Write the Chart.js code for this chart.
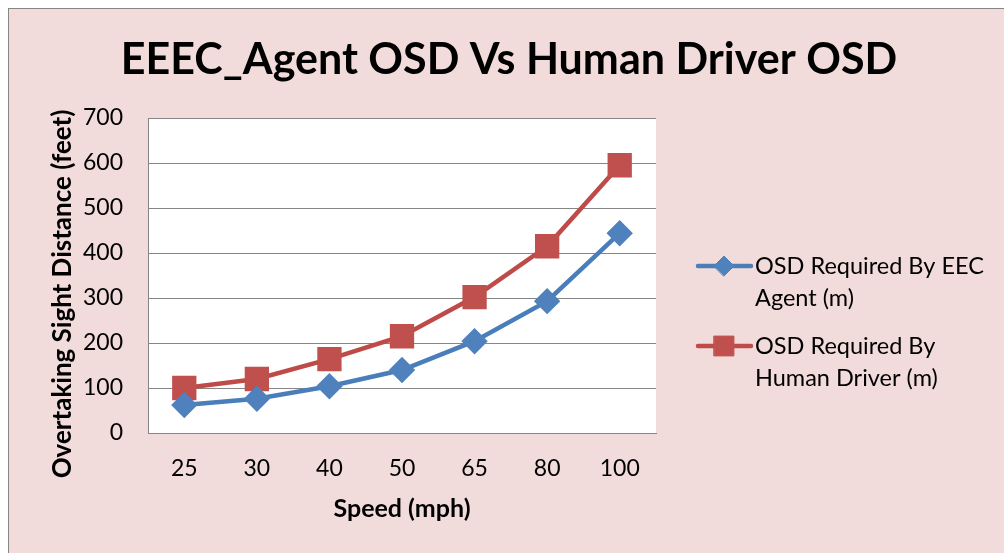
<!DOCTYPE html>
<html>
<head>
<meta charset="utf-8">
<script src="https://cdn.jsdelivr.net/npm/chart.js@4.4.0/dist/chart.umd.min.js"></script>
<style>
  html, body { margin: 0; padding: 0; background: #fff; }
  #frame {
    position: absolute; left: 8px; top: 8px;
    width: 1004px; height: 553px;
    background: #F2DCDB; border: 1px solid #868686;
  }
  #wrap { position: absolute; left: 0; top: 0; width: 1004px; height: 553px; }
</style>
</head>
<body>
<div id="frame"></div>
<div id="wrap"><canvas id="myChart" width="1004" height="553"></canvas></div>
<script>
const speeds = ['25', '30', '40', '50', '65', '80', '100'];
const agentOSD = [62, 76, 104, 140, 204, 293, 444];
const humanOSD = [100, 120, 164, 215, 302, 415, 595];
const seriesNames = [
  ['OSD Required By EEC', 'Agent (m)'],
  ['OSD Required By', 'Human Driver (m)']
];
const chartTitle = 'EEEC_Agent OSD Vs Human Driver OSD';
const yTitle = 'Overtaking Sight Distance (feet)';

const FONT = 'Lato';
const blueLine = '#4A7EBB', blueFill = '#4F81BD';
const redLine = '#BE4B48', redFill = '#C0504D';

// title, y-axis title and two-line legend, drawn by hand
const extras = {
  id: 'extras',
  afterDraw(chart) {
    const ctx = chart.ctx;
    ctx.save();
    ctx.fillStyle = '#000';
    ctx.textAlign = 'center';
    ctx.textBaseline = 'middle';
    ctx.font = 'bold 43px ' + FONT;
    ctx.fillText(chartTitle, 509, 60);

    ctx.save();
    ctx.translate(63, 294);
    ctx.rotate(-Math.PI / 2);
    ctx.font = 'bold 26px ' + FONT;
    ctx.fillText(yTitle, 0, 0);
    ctx.restore();

    const items = [
      { y: 266, line: blueLine, fill: blueFill, style: 'rectRot', r: 10 },
      { y: 346, line: redLine, fill: redFill, style: 'rect', r: 14 }
    ];
    items.forEach((it, i) => {
      ctx.strokeStyle = it.line;
      ctx.lineWidth = 4.5;
      ctx.lineCap = 'round';
      ctx.beginPath();
      ctx.moveTo(698, it.y);
      ctx.lineTo(751, it.y);
      ctx.stroke();
      ctx.fillStyle = it.fill;
      ctx.strokeStyle = it.fill;
      ctx.lineWidth = 1;
      Chart.helpers.drawPoint(ctx, { pointStyle: it.style, radius: it.r, borderWidth: 1 }, 724, it.y);
      ctx.fillStyle = '#000';
      ctx.textAlign = 'left';
      ctx.font = '23.5px ' + FONT;
      ctx.fillText(seriesNames[i][0], 755, it.y);
      ctx.fillText(seriesNames[i][1], 755, it.y + 32);
    });
    ctx.restore();
  }
};

// white plot area
const plotBg = {
  id: 'plotBg',
  beforeDraw(chart) {
    const a = chart.chartArea;
    chart.ctx.save();
    chart.ctx.fillStyle = '#fff';
    chart.ctx.fillRect(a.left, a.top, a.right - a.left, a.bottom - a.top);
    chart.ctx.restore();
  }
};

const data = {
  labels: speeds,
  datasets: [{
    label: seriesNames[0].join(' '),
    data: agentOSD,
    borderColor: blueLine,
    backgroundColor: blueFill,
    pointBackgroundColor: blueFill,
    pointBorderColor: blueFill,
    pointStyle: 'rectRot',
    pointRadius: 10,
    pointHoverRadius: 10,
    borderWidth: 4.5
  }, {
    label: seriesNames[1].join(' '),
    data: humanOSD,
    borderColor: redLine,
    backgroundColor: redFill,
    pointBackgroundColor: redFill,
    pointBorderColor: redFill,
    pointStyle: 'rect',
    pointRadius: 14,
    pointHoverRadius: 14,
    borderWidth: 4.5
  }]
};

const config = {
  type: 'line',
  data: data,
  options: {
    responsive: false,
    animation: false,
    layout: { padding: { left: 40, top: 118, right: 348, bottom: 29 } },
    plugins: {
      legend: { display: false },
      title: { display: false },
      tooltip: { enabled: false }
    },
    scales: {
      x: {
        offset: true,
        grid: { display: false, drawTicks: false },
        border: { color: '#868686', width: 1 },
        ticks: { color: '#000', padding: 22, font: { family: FONT, size: 23 } },
        title: {
          display: true, text: 'Speed (mph)', color: '#000',
          font: { family: FONT, size: 25, weight: 'bold' },
          padding: { top: 0, bottom: 0 }
        },
        afterFit(scale) { scale.height = 91; }
      },
      y: {
        min: 0, max: 700,
        ticks: { stepSize: 100, color: '#000', padding: 25, font: { family: FONT, size: 23 } },
        grid: { color: '#868686', drawTicks: false },
        border: { color: '#868686', width: 1 },
        afterFit(scale) { scale.width = 108; }
      }
    }
  },
  plugins: [plotBg, extras]
};

const myChart = new Chart(document.getElementById('myChart'), config);
</script>
</body>
</html>
